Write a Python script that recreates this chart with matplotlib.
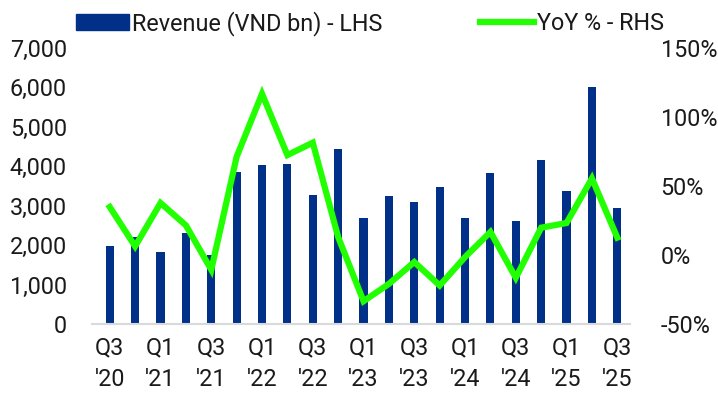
import matplotlib
matplotlib.use("Agg")
import matplotlib.pyplot as plt
from matplotlib.patches import Patch
from matplotlib.lines import Line2D
from matplotlib.ticker import FuncFormatter, MultipleLocator

quarters = ["Q3 '20", "Q4 '20", "Q1 '21", "Q2 '21", "Q3 '21", "Q4 '21",
            "Q1 '22", "Q2 '22", "Q3 '22", "Q4 '22", "Q1 '23", "Q2 '23",
            "Q3 '23", "Q4 '23", "Q1 '24", "Q2 '24", "Q3 '24", "Q4 '24",
            "Q1 '25", "Q2 '25", "Q3 '25"]
revenue = [1970, 2200, 1830, 2310, 1760, 3860, 4030, 4050, 3260, 4430,
           2690, 3250, 3100, 3480, 2700, 3820, 2600, 4170, 3370, 6000, 2930]
yoy = [34.8, 6.3, 37.7, 21.5, -10.7, 71.2, 116.8, 72.4, 81.4, 13.0,
       -33.5, -20.9, -5.1, -22.1, -1.5, 16.7, -16.5, 19.8, 23.2, 55.5, 12.6]

plt.rcParams['font.family'] = ['Roboto', 'DejaVu Sans']
navy = '#003087'
green = '#22FF00'
txt = '#1a1a1a'
fs = 16.8

fig = plt.figure(figsize=(7.18, 4.08), dpi=100)
ax = fig.add_axes([92/718, (408-324)/408, (630-92)/718, (324-48)/408])
x = list(range(len(quarters)))
ax.bar(x, revenue, width=0.32, color=navy, zorder=2)
ax.set_ylim(0, 7000)
ax.set_xlim(-0.7, 20.5)
ax.yaxis.set_major_locator(MultipleLocator(1000))
ax.yaxis.set_major_formatter(FuncFormatter(lambda v, p: f"{int(v):,}"))
ax.set_xticks(x[::2])
ax.set_xticklabels([q.replace(' ', '\n') for q in quarters[::2]], linespacing=1.45)
for s in ['top', 'right', 'left']:
    ax.spines[s].set_visible(False)
ax.spines['bottom'].set_color('#d9d9d9')
ax.spines['bottom'].set_linewidth(1.5)
ax.tick_params(axis='both', length=0, labelsize=fs, colors=txt)
ax.tick_params(axis='x', pad=9)
ax.tick_params(axis='y', pad=18)

ax2 = ax.twinx()
ax2.plot(x, yoy, color=green, lw=4.5, solid_joinstyle='miter', zorder=3)
ax2.set_ylim(-50, 150)
ax2.yaxis.set_major_locator(MultipleLocator(50))
ax2.yaxis.set_major_formatter(FuncFormatter(lambda v, p: f"{int(v)}%"))
for s in ['top', 'right', 'left', 'bottom']:
    ax2.spines[s].set_visible(False)
ax2.tick_params(axis='y', length=0, labelsize=fs, colors=txt, pad=22)

handles = [Patch(color=navy), Line2D([0], [0], color=green, lw=4.5)]
fig.legend(handles, ['Revenue (VND bn) - LHS', 'YoY % - RHS'], ncol=2,
           loc='upper center', bbox_to_anchor=(0.515, 1.025), frameon=False,
           fontsize=fs, handlelength=2.3, handletextpad=0.12, columnspacing=4.2,
           labelcolor=txt)

fig.savefig('out.png', dpi=100)
